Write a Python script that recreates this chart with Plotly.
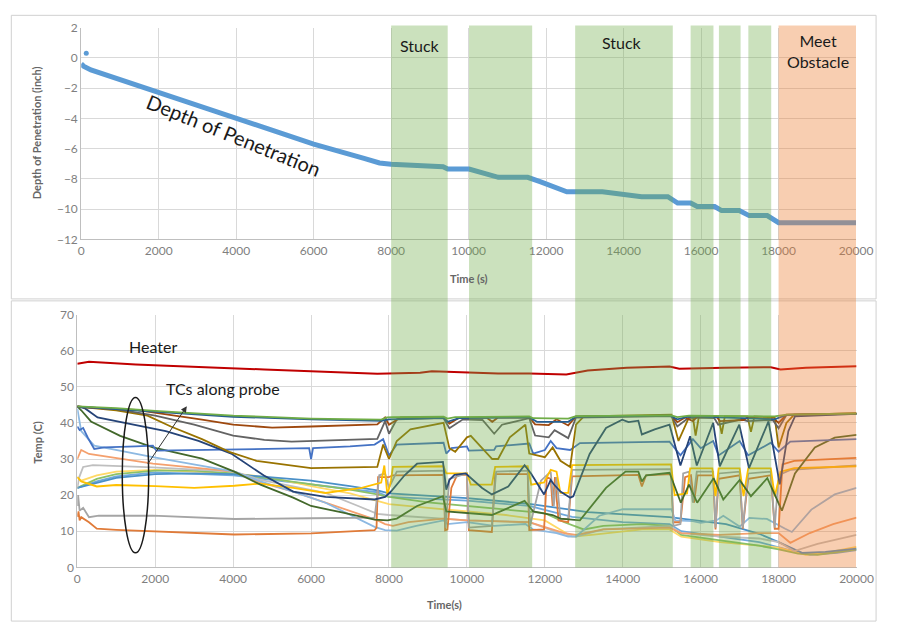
import plotly.graph_objects as go

W, H = 897, 631

# ---------------- depth of penetration (top panel) ----------------
depth_t = [0, 60, 250, 2000, 4000, 6000, 7300, 7700, 8000, 9000, 9340, 9460, 10010, 10767, 11524,
           11861, 12114, 12535, 13454, 13958, 14466, 15142, 15394, 15731, 15900, 16350, 16530,
           16985, 17240, 17707, 18002, 20000]
depth_in = [-0.4, -0.55, -0.8, -2.3, -4.0, -5.7, -6.65, -6.95, -7.03, -7.1, -7.2, -7.35, -7.35, -7.9, -7.9,
            -8.2, -8.43, -8.86, -8.86, -9.0, -9.18, -9.18, -9.6, -9.6, -9.83, -9.83, -10.1,
            -10.1, -10.43, -10.43, -10.9, -10.9]
depth_outlier_t = [130]
depth_outlier_in = [0.3]

# ---------------- probe state periods (s) ----------------
stuck_start = [8000, 10010, 12750, 15730, 16460, 17220]
stuck_end = [9460, 11640, 15270, 16320, 17020, 17810]
obstacle_start = 18000
obstacle_end = 20000

# ---------------- heater temperature ----------------
heater_t = [0, 300, 1500, 2300, 4800, 6500, 7700, 8800, 9100, 10800, 11600, 12550, 13100, 14100,
            15200, 15450, 16600, 17800, 18050, 18700, 20000]
heater_c = [56.4, 56.9, 56.2, 55.8, 54.8, 54.2, 53.6, 53.9, 54.3, 53.7, 53.7, 53.4, 54.5, 55.3,
            55.6, 55.0, 55.3, 55.4, 54.8, 55.3, 55.7]

# ---------------- thermocouples along the probe ----------------
tc_a_t = [0, 1000, 2000, 3000, 4000, 6000, 7800, 7950, 8100, 9400, 9500, 9700, 11600, 11700, 12600,
          12800, 15250, 15400, 15700, 17900, 18200, 20000]
tc_a_c = [44.6, 44.1, 43.3, 42.6, 42.0, 41.2, 40.9, 41.5, 41.6, 41.7, 41.2, 41.6, 41.8, 41.3, 41.2,
          41.9, 42.1, 41.6, 42.0, 41.8, 42.3, 42.6]

tc_b_t = [0, 1000, 2000, 4000, 6000, 7800, 8000, 9400, 9500, 9800, 11600, 11800, 12600, 12800, 15200,
          15400, 15700, 17900, 18200, 20000]
tc_b_c = [44.5, 43.8, 43.0, 41.7, 41.0, 40.6, 41.0, 41.4, 40.3, 41.3, 41.5, 40.3, 40.3, 41.7, 42.0,
          41.0, 41.8, 41.0, 42.2, 42.5]

tc_c_t = [0, 500, 1500, 2500, 3200, 4000, 5000, 6000, 7700, 7900, 8000, 8300, 9400, 9550, 9800, 10500,
          10650, 10800, 11600, 11750, 12100, 12300, 12600, 12800, 15250, 15400, 15600, 15800, 15900,
          16400, 16500, 17100, 17200, 17900, 18000, 18200, 20000]
tc_c_c = [44.6, 44.1, 43.6, 42.1, 40.9, 39.5, 38.7, 39.0, 39.6, 41.5, 39.5, 41.5, 41.5, 39.8, 41.4, 41.5,
          40.3, 41.5, 41.5, 39.6, 39.4, 41.0, 39.3, 41.8, 42.0, 40.2, 41.5, 40.5, 41.6,
          41.7, 40.5, 40.8, 41.5, 41.0, 40.0, 42.3, 42.6]

tc_d_t = [0, 1000, 2000, 3000, 4000, 4800, 5500, 6000, 7700, 7900, 8000, 8200, 9400, 9550, 9900, 10400,
          10700, 10900, 11600, 11750, 12100, 12250, 12600, 12800, 15250, 15400, 15700, 16350, 16450,
          17050, 17200, 17850, 18000, 18200, 20000]
tc_d_c = [44.5, 43.8, 42.0, 39.5, 36.5, 35.3, 34.8, 35.0, 35.6, 40.5, 37.0, 41.0, 41.3, 38.5, 41.0, 40.8,
          37.0, 39.5, 41.3, 36.5, 36.0, 38.0, 35.8, 41.5, 41.9, 39.0, 41.5, 41.3, 39.5,
          41.0, 40.5, 40.8, 38.5, 42.2, 42.5]

tc_e_t = [0, 1000, 1800, 2400, 3200, 3900, 4600, 5500, 6000, 7700, 7850, 8000, 8200, 8550, 9400, 9550,
          9700, 10000, 10100, 10650, 10800, 11100, 11500, 11600, 12000, 12200, 12400, 12650, 12800,
          13000, 15250, 15430, 15700, 15800, 15870, 15950, 16450, 16540, 16620, 17200, 17290, 17380,
          17900, 18000, 18200, 18400, 20000]
tc_e_c = [44.5, 43.5, 42.0, 39.0, 35.5, 32.0, 29.5, 28.3, 27.5, 27.8, 34.0, 30.0, 35.0, 38.2, 40.0, 33.0,
          32.0, 36.0, 36.4, 30.0, 30.0, 36.0, 39.5, 31.5, 30.5, 33.2, 29.5, 27.8, 39.5,
          41.8, 42.3, 35.0, 41.5, 41.5, 36.5, 41.5, 41.8, 37.0, 41.8, 41.8, 37.5, 41.8,
          41.5, 33.2, 40.0, 42.3, 42.6]

tc_f_t = [0, 200, 520, 1440, 2270, 3110, 3950, 4780, 5540, 6370, 7630, 7900, 8050, 8400, 8720, 9385,
          9470, 9550, 9680, 9970, 10390, 10640, 11060, 11480, 11645, 11980, 12150, 12230, 12400, 12650,
          12730, 13150, 13570, 13985, 14150, 14400, 14490, 14820, 15200, 15480, 15730, 15900, 16320,
          16490, 16990, 17240, 17740, 18030, 18250, 18420, 20000]
tc_f_c = [44.6, 44.0, 41.5, 39.5, 37.7, 35.0, 31.5, 25.5, 21.0, 19.5, 18.8, 19.5, 21.0, 25.5, 28.7, 29.2,
          21.5, 24.2, 25.6, 26.0, 22.0, 20.2, 22.4, 28.3, 26.0, 20.2, 24.2, 23.0, 21.0, 19.3,
          19.7, 31.4, 38.6, 40.9, 40.2, 40.6, 36.8, 38.2, 39.5, 28.2, 36.3, 28.2, 40.0,
          28.0, 39.5, 27.5, 40.4, 23.0, 37.7, 41.8, 42.5]

tc_g_t = [0, 100, 350, 1100, 1940, 3200, 4030, 4700, 5540, 6000, 6790, 7630, 7960, 8200, 8720, 9385,
          9470, 10000, 10640, 11480, 11700, 12200, 12400, 12900, 13570, 14070, 14400, 14490, 14600,
          15200, 15325, 15490, 15700, 15910, 16330, 16580, 17000, 17290, 17710, 18085, 18420, 18930,
          19440, 20000]
tc_g_c = [44.6, 43.5, 40.4, 36.4, 33.2, 30.1, 26.5, 22.9, 19.3, 17.0, 15.2, 13.2, 13.0, 13.5, 17.0, 19.7,
          15.5, 15.0, 14.5, 18.4, 15.5, 14.5, 13.5, 13.0, 22.0, 26.5, 26.5, 23.8, 25.5,
          26.2, 22.4, 17.9, 22.9, 17.9, 24.7, 18.8, 24.2, 19.7, 24.7, 15.7, 26.0, 33.2,
          35.9, 36.7]

tc_h_t = [0, 60, 150, 270, 435, 690, 1500, 1940, 2030, 3000, 4030, 5000, 5950, 6000, 6050, 7000, 7630,
          7850, 8000, 8200, 9400, 9470, 9600, 10000, 10050, 10700, 10750, 11600, 11700, 12000, 12150,
          12300, 12650, 12900, 15200, 15480, 15800, 16000, 16320, 16460, 17000, 17220, 17800, 18000,
          18300, 20000]
tc_h_c = [39.0, 38.0, 38.6, 35.9, 32.8, 33.2, 33.5, 33.7, 32.3, 32.5, 32.8, 33.0, 33.0, 30.0, 33.0, 33.5,
          34.0, 35.5, 31.0, 34.0, 34.5, 31.5, 33.0, 33.5, 32.3, 32.5, 33.5, 34.3, 31.5, 32.5, 35.0,
          33.0, 32.5, 34.4, 34.8, 31.0, 35.5, 33.0, 35.0, 31.0, 35.0, 31.0, 34.5, 32.0,
          34.8, 35.5]

tc_i_t = [0, 50, 100, 435, 1940, 4030, 4700, 5540, 6370, 7630, 7900, 8200, 8700, 9400, 9500, 10000,
          10700, 11500, 11700, 12300, 12600, 12800, 13400, 14000, 14800, 15250, 15350, 15800, 16000,
          16400, 16580, 17000, 17250, 17700, 18170, 18340, 18840, 19440, 20000]
tc_i_c = [44.0, 41.0, 37.7, 33.7, 30.5, 26.5, 23.8, 21.0, 17.9, 11.2, 10.3, 10.2, 11.5, 13.0, 12.0, 12.5,
          11.5, 12.0, 10.5, 9.5, 8.5, 8.5, 14.3, 16.1, 16.2, 16.1, 13.0, 12.8, 12.3,
          13.0, 14.3, 11.3, 13.7, 13.4, 10.7, 9.8, 16.0, 20.2, 22.0]

tc_j_t = [0, 100, 300, 1940, 4030, 4700, 5540, 6370, 7210, 7710, 7900, 8100, 8500, 9400, 10000, 11600,
          12500, 12800, 13500, 15200, 15500, 16500, 17500, 18000, 18300, 18800, 19400, 20000]
tc_j_c = [30.0, 32.5, 31.4, 28.7, 26.5, 23.5, 21.0, 17.9, 14.8, 13.0, 12.0, 11.5, 12.5, 13.5, 13.0, 12.5,
          9.5, 9.0, 10.5, 11.0, 9.5, 9.0, 9.5, 9.5, 6.8, 9.5, 12.0, 13.8]

tc_k_t = [0, 50, 150, 400, 1940, 4030, 4700, 5540, 6370, 7210, 7700, 8000, 9400, 10000, 11600, 12500,
          12800, 13500, 15200, 15500, 16500, 17500, 18000, 18400, 19000, 20000]
tc_k_c = [22.0, 25.0, 27.8, 28.3, 27.7, 26.5, 24.2, 22.4, 20.6, 17.0, 14.8, 14.5, 13.5, 13.0, 12.5, 9.0,
          8.5, 10.5, 11.5, 9.5, 8.5, 8.0, 7.0, 4.5, 6.5, 9.0]

tc_l_t = [0, 100, 500, 1000, 2000, 3000, 4030, 4700, 5540, 6370, 7300, 7800, 7880, 7960, 8050, 8100,
          9400, 9470, 10000, 10100, 10640, 10725, 11560, 11650, 11980, 12150, 12300, 12400, 12600,
          12700, 15240, 15330, 15650, 15730, 16300, 16380, 16460, 17000, 17100, 17220, 17800, 17900,
          18050, 18400, 20000]
tc_l_c = [25.0, 23.8, 22.4, 22.8, 22.5, 22.0, 22.6, 23.2, 22.0, 20.6, 22.0, 23.5, 28.2, 20.0, 24.0, 27.8,
          28.0, 26.0, 26.0, 22.9, 22.9, 27.8, 28.0, 22.9, 23.5, 27.0, 26.5, 20.6, 20.6,
          28.3, 28.5, 20.0, 20.5, 27.4, 27.4, 19.7, 27.4, 27.4, 19.7, 27.4, 27.4, 19.7,
          26.5, 27.5, 28.0]

tc_n_t = [0, 20, 60, 150, 300, 550, 1940, 4030, 6000, 7630, 7700, 7750, 7900, 8000, 8200, 9400, 9450,
          9550, 10000, 10050, 10640, 10750, 11560, 11620, 11900, 12150, 12230, 12300, 12400, 12600,
          12700, 15240, 15300, 15480, 15550, 15700, 15800, 15900, 16320, 16380, 16460, 17000, 17080,
          17220, 17800, 17900, 18000, 18300, 20000]
tc_n_c = [17.0, 20.0, 15.7, 16.5, 13.9, 14.3, 14.3, 13.4, 13.6, 13.8, 20.0, 25.5, 26.0, 22.0, 26.5, 26.8,
          11.0, 24.5, 26.0, 11.0, 11.5, 26.5, 26.8, 11.5, 24.0, 26.5, 17.0, 25.0, 13.4, 13.4,
          27.0, 27.2, 11.5, 12.0, 26.0, 26.5, 17.9, 26.5, 26.5, 11.0, 26.0, 26.5, 11.0,
          26.0, 26.5, 11.0, 25.5, 27.0, 28.2]

tc_o_t = [0, 30, 60, 100, 300, 500, 1000, 1940, 3000, 4030, 6000, 7630, 7680, 7720, 8000, 8100, 9400,
          9440, 9500, 9600, 9750, 10000, 10050, 10640, 10725, 11560, 11600, 11980, 12050, 12150,
          12200, 12260, 12350, 12600, 12700, 14400, 14490, 14600, 15240, 15300, 15480, 15600, 15750,
          15830, 15920, 16320, 16380, 16460, 17000, 17080, 17220, 17800, 17900, 18000, 18100, 18400,
          20000]
tc_o_c = [14.0, 15.5, 13.0, 13.9, 12.5, 10.7, 10.4, 10.0, 9.5, 9.1, 9.4, 10.3, 11.0, 25.0, 25.0, 25.5,
          25.6, 10.3, 10.5, 22.0, 25.6, 25.6, 10.3, 9.8, 25.8, 25.8, 10.3, 10.5, 25.0, 24.5,
          17.0, 25.0, 13.0, 12.5, 25.2, 25.6, 22.4, 25.5, 25.8, 12.5, 12.5, 25.0, 25.5,
          17.9, 25.5, 25.5, 10.5, 24.5, 25.5, 10.7, 24.5, 25.5, 10.7, 10.7, 28.5, 29.5,
          30.3]

tc_m1_t = [0, 500, 1000, 2000, 3000, 4000, 5000, 6000, 7000, 7700, 8000, 9000, 10000, 11000, 12000,
           12500, 13000, 13500, 14500, 15200, 15500, 16500, 17500, 18000, 18500, 19000, 20000]
tc_m1_c = [22.0, 24.5, 25.8, 26.8, 26.8, 26.0, 24.5, 23.0, 21.5, 20.2, 19.5, 18.0, 17.0, 16.0, 15.0,
           12.5, 10.5, 11.5, 12.0, 11.5, 9.0, 7.5, 6.0, 5.0, 3.8, 3.5, 5.0]

tc_m2_t = [0, 100, 500, 1000, 2000, 4000, 5000, 6000, 7000, 7700, 8000, 9000, 10000, 11000, 12000,
           12700, 13200, 14500, 15200, 15500, 16500, 17500, 18000, 18700, 19200, 20000]
tc_m2_c = [25.0, 24.0, 25.5, 26.5, 27.0, 26.0, 24.8, 22.5, 20.5, 18.5, 17.5, 16.5, 15.5, 14.5, 13.0,
           8.5, 9.0, 10.5, 10.5, 8.5, 7.0, 6.0, 5.5, 3.5, 4.0, 5.7]

tc_m3_t = [0, 500, 1000, 2000, 3000, 4000, 5000, 6000, 7000, 7700, 8000, 10000, 11600, 13100, 15200,
           16650, 17500, 18000, 18600, 19200, 20000]
tc_m3_c = [22.0, 23.5, 24.8, 25.8, 26.0, 25.8, 25.0, 24.0, 22.5, 21.3, 20.5, 19.2, 17.6, 15.3, 13.9,
           12.0, 9.3, 7.0, 4.0, 4.3, 5.2]

tc_m4_t = [0, 500, 1000, 2000, 4000, 6000, 7700, 8000, 10000, 11600, 12700, 14000, 15200, 15500, 16500,
           17500, 18200, 18800, 19500, 20000]
tc_m4_c = [22.0, 23.8, 25.2, 26.3, 25.5, 23.0, 20.8, 19.5, 18.5, 17.0, 14.0, 12.5, 12.0, 10.0, 8.5,
           7.0, 5.0, 3.5, 4.0, 4.8]

tc_series = [
    (tc_m4_t, tc_m4_c, "#6FA8DC"),
    (tc_m2_t, tc_m2_c, "#FFD966"),
    (tc_m1_t, tc_m1_c, "#8CC168"),
    (tc_m3_t, tc_m3_c, "#4A90C8"),
    (tc_k_t, tc_k_c, "#BFBFBF"),
    (tc_j_t, tc_j_c, "#F4A06E"),
    (tc_i_t, tc_i_c, "#8DB9E2"),
    (tc_o_t, tc_o_c, "#E07B39"),
    (tc_n_t, tc_n_c, "#A5A5A5"),
    (tc_l_t, tc_l_c, "#FFC000"),
    (tc_g_t, tc_g_c, "#43682B"),
    (tc_h_t, tc_h_c, "#4472C4"),
    (tc_f_t, tc_f_c, "#264478"),
    (tc_e_t, tc_e_c, "#997300"),
    (tc_d_t, tc_d_c, "#636363"),
    (tc_c_t, tc_c_c, "#9E480E"),
    (tc_b_t, tc_b_c, "#255E91"),
    (tc_a_t, tc_a_c, "#70AD47"),
]


def px(x):
    """Pixel column -> paper fraction."""
    return x / W


def py(y):
    """Pixel row (from the top) -> paper fraction (from the bottom)."""
    return 1 - y / H


fig = go.Figure()

# depth curve
fig.add_trace(go.Scatter(x=depth_t, y=depth_in, mode="lines",
                         line=dict(color="#5B9BD5", width=5), xaxis="x", yaxis="y",
                         showlegend=False, hoverinfo="skip"))
fig.add_trace(go.Scatter(x=depth_outlier_t, y=depth_outlier_in, mode="markers",
                         marker=dict(color="#5B9BD5", size=5), xaxis="x", yaxis="y",
                         showlegend=False))

# thermocouples
for t, c, col in tc_series:
    fig.add_trace(go.Scatter(x=t, y=c, mode="lines", line=dict(color=col, width=1.8),
                             xaxis="x2", yaxis="y2", showlegend=False))
fig.add_trace(go.Scatter(x=heater_t, y=heater_c, mode="lines", line=dict(color="#C00000", width=2),
                         xaxis="x2", yaxis="y2", showlegend=False))

tick_font = dict(family="Lato, Open Sans, sans-serif", size=12, color="#7f7f7f")
grid = "#d9d9d9"
axis_common = dict(showgrid=True, gridcolor=grid, zeroline=False, showline=True,
                   linecolor="#bfbfbf", tickfont=tick_font, ticks="")

fig.update_layout(
    width=W, height=H,
    margin=dict(l=0, r=0, t=0, b=0),
    paper_bgcolor="white",
    plot_bgcolor="rgba(0,0,0,0)",
    showlegend=False,
    xaxis=dict(domain=[px(80), px(872.5)], anchor="y", range=[0, 20000], dtick=2000,
               tickformat="d", **axis_common),
    yaxis=dict(domain=[py(237), py(20)], anchor="x", range=[-12, 2], dtick=2, **axis_common),
    xaxis2=dict(domain=[px(76), px(873)], anchor="y2", range=[0, 20000], dtick=2000,
                tickformat="d", **axis_common),
    yaxis2=dict(domain=[py(573), py(314)], anchor="x2", range=[0, 70], dtick=10, **axis_common),
)

shapes = []
# chart frames
shapes.append(dict(type="rect", xref="paper", yref="paper", x0=px(8.5), x1=px(893), y0=py(298), y1=py(7.5),
                   line=dict(color="#d0d0d0", width=1), layer="below"))
shapes.append(dict(type="rect", xref="paper", yref="paper", x0=px(8.5), x1=px(893), y0=py(628), y1=py(300),
                   line=dict(color="#d0d0d0", width=1), layer="below"))
# stuck periods and obstacle
for s, e in zip(stuck_start, stuck_end):
    shapes.append(dict(type="rect", xref="x", yref="paper", x0=s, x1=e, y0=py(573), y1=py(18),
                       fillcolor="rgba(112,173,71,0.36)", line=dict(width=0), layer="above"))
shapes.append(dict(type="rect", xref="x", yref="paper", x0=obstacle_start, x1=obstacle_end,
                   y0=py(573), y1=py(18), fillcolor="rgba(237,125,49,0.38)", line=dict(width=0),
                   layer="above"))
# ellipse around the thermocouple traces
shapes.append(dict(type="circle", xref="paper", yref="paper", x0=px(122), x1=px(149),
                   y0=py(558), y1=py(399), line=dict(color="#1a1a1a", width=1.5), layer="above"))
fig.update_layout(shapes=shapes)

label_font = dict(family="Lato, Open Sans, sans-serif", size=16, color="#1a1a1a")
title_font = dict(family="Lato, Open Sans, sans-serif", size=11, color="#666666")

annotations = [
    dict(x=px(427), y=py(38), text="Stuck", font=label_font),
    dict(x=px(633), y=py(35), text="Stuck", font=label_font),
    dict(x=px(834), y=py(44), text="Meet<br>Obstacle", font=label_font),
    dict(x=px(236), y=py(130), text="Depth of Penetration", textangle=22,
         font=dict(family="Lato, Open Sans, sans-serif", size=20, color="#1a1a1a")),
    dict(x=px(153), y=py(347), text="Heater", font=label_font),
    dict(x=px(225), y=py(390), text="TCs along probe", font=label_font),
    dict(x=px(35), y=py(128), text="<b>Depth of Penetration (inch)</b>", textangle=-90, font=title_font),
    dict(x=px(477), y=py(277), text="<b>Time (s)</b>", font=title_font),
    dict(x=px(35), y=py(445), text="<b>Temp (C)</b>", textangle=-90, font=title_font),
    dict(x=px(452), y=py(611), text="<b>Time(s)</b>", font=title_font),
]
for a in annotations:
    a.update(xref="paper", yref="paper", showarrow=False, xanchor="center", yanchor="middle")
annotations.append(dict(xref="paper", yref="paper", x=px(188), y=py(408), ax=-40, ay=59,
                        showarrow=True, arrowhead=2, arrowsize=1.2, arrowwidth=1,
                        arrowcolor="#333333", text=""))
fig.update_layout(annotations=annotations)

fig.write_html("out.html")
